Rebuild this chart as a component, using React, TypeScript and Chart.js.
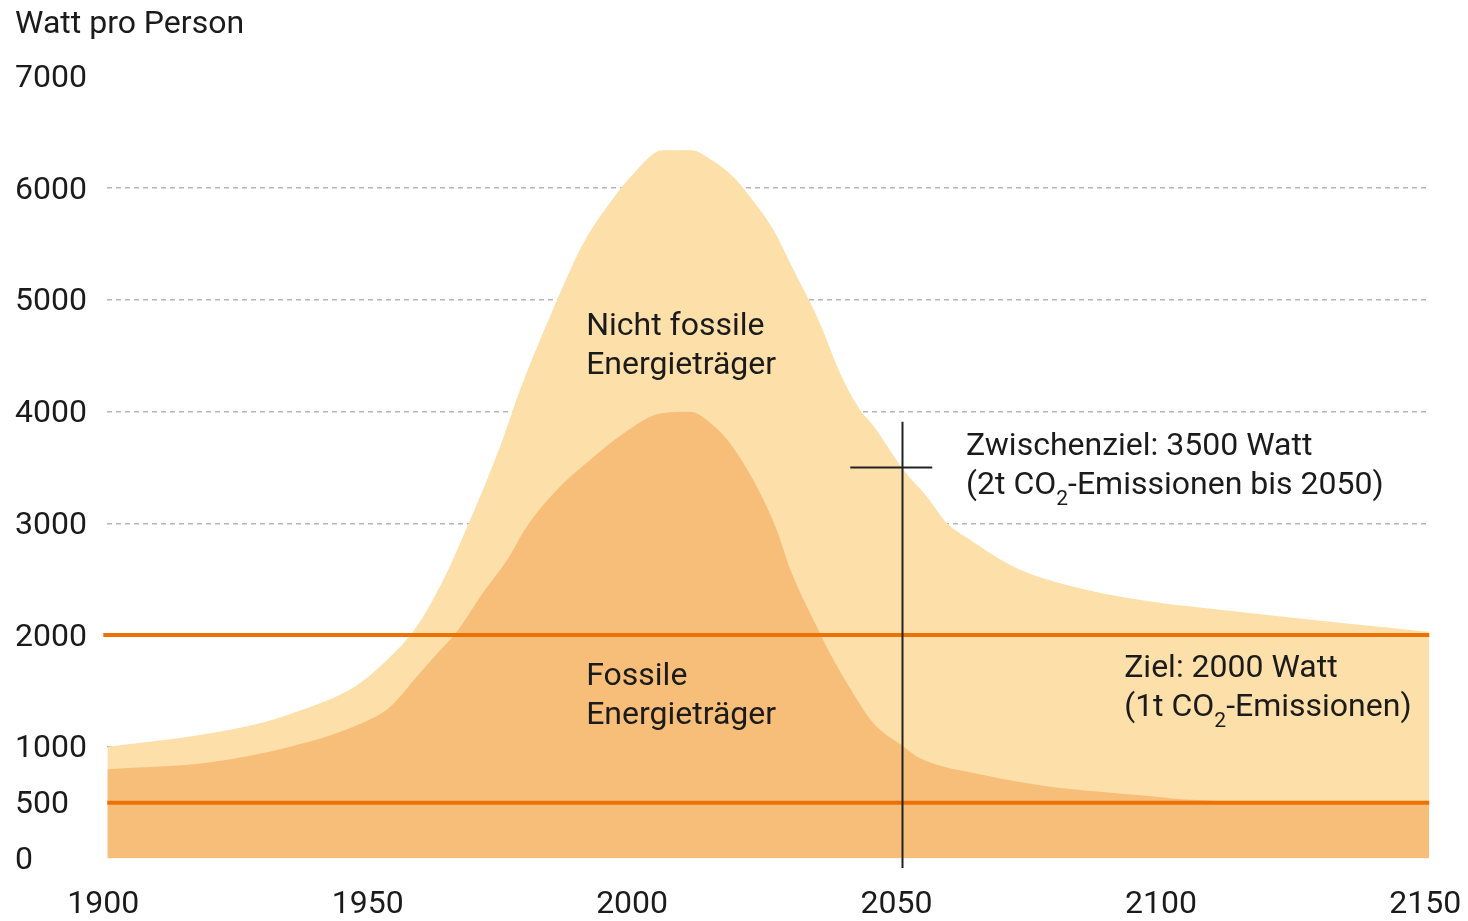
import React, { useEffect, useRef } from 'react';
import { Chart, registerables } from 'chart.js';

Chart.register(...registerables);

// ---- data ----
const totalYears = [1900, 1917.5, 1930, 1935, 1947, 1953.5, 1958.5, 1963.5, 1966.7, 1974.3, 1978, 1983.7, 1990, 1994.5, 1999.5, 2005, 2010.5, 2013.4, 2018.4, 2021.6, 2026, 2029.8, 2034.2, 2039.2, 2042.4, 2045, 2050.6, 2055, 2058.8, 2063.2, 2067, 2072.7, 2082.7, 2095.4, 2116, 2150];
const totalValues = [1000, 1105, 1225, 1300, 1545, 1805, 2075, 2490, 2820, 3690, 4190, 4850, 5505, 5835, 6130, 6340, 6340, 6280, 6100, 5920, 5625, 5265, 4850, 4280, 4013, 3865, 3476, 3238, 3000, 2850, 2731, 2582, 2432, 2313, 2197, 2027];

const fossilYears = [1900, 1918.8, 1934.6, 1948.1, 1953.5, 1958.5, 1961.7, 1966.1, 1971, 1975.6, 1979.3, 1985, 1992, 1997.6, 2004.6, 2010.2, 2013.4, 2017.8, 2023.5, 2026.6, 2029.2, 2034.8, 2036.5, 2039.9, 2044.9, 2050.6, 2053.7, 2065.7, 2078.3, 2087.8, 2097, 2105, 2125, 2150];
const fossilValues = [800, 857, 1000, 1210, 1358, 1627, 1800, 2030, 2376, 2671, 2969, 3298, 3596, 3805, 3984, 3998, 3924, 3715, 3268, 2940, 2582, 2015, 1850, 1568, 1210, 1000, 897, 747, 643, 598, 560, 525, 505, 500];

const yTickValues = [0, 500, 1000, 2000, 3000, 4000, 5000, 6000, 7000];
const gridValues = [1000, 3000, 4000, 5000, 6000];
const targetValues = [2000, 500];
const xMin = 1900;
const xMax = 2150;
const xStep = 50;
const yTitle = 'Watt pro Person';
const milestoneYear = 2050;
const milestoneValue = 3500;
const nonFossilLabel = ['Nicht fossile', 'Energieträger'];
const fossilLabel = ['Fossile', 'Energieträger'];
const interimLabel = ['Zwischenziel: 3500 Watt', '(2t CO', '2', '-Emissionen bis 2050)'];
const goalLabel = ['Ziel: 2000 Watt', '(1t CO', '2', '-Emissionen)'];

// ---- styles ----
const FONT = 'Roboto, "Noto Sans", sans-serif';
const TEXT = '#1b1b1b';
const LIGHT = '#FCDFA9';
const DARK = '#F7BE7A';
const ORANGE = '#EE7203';
const GRID = '#b5b5b5';

const overlayPlugin = {
  id: 'overlay',
  afterDraw(chart: any) {
    const { ctx, scales } = chart;
    const x = scales.x;
    const y = scales.y;
    ctx.save();

    // target lines
    ctx.strokeStyle = ORANGE;
    ctx.lineWidth = 4;
    targetValues.forEach((v, i) => {
      const py = y.getPixelForValue(v);
      ctx.beginPath();
      ctx.moveTo(x.left - (i === 0 ? 4 : 0), py);
      ctx.lineTo(x.right, py);
      ctx.stroke();
    });

    // milestone cross
    ctx.strokeStyle = '#222';
    ctx.lineWidth = 2;
    const mx = x.getPixelForValue(milestoneYear) + 2;
    ctx.beginPath();
    ctx.moveTo(mx, y.getPixelForValue(3910));
    ctx.lineTo(mx, y.getPixelForValue(-85));
    ctx.stroke();
    const my = y.getPixelForValue(milestoneValue);
    ctx.beginPath();
    ctx.moveTo(x.getPixelForValue(2040.5), my);
    ctx.lineTo(x.getPixelForValue(2056), my);
    ctx.stroke();

    // texts
    ctx.fillStyle = TEXT;
    ctx.textBaseline = 'alphabetic';
    ctx.textAlign = 'left';
    ctx.font = `32px ${FONT}`;
    const lh = 39;

    // y title
    ctx.fillText(yTitle, 15, 33);

    const twoLines = (lines: string[], yr: number, val: number) => {
      const px = x.getPixelForValue(yr);
      const py = y.getPixelForValue(val);
      ctx.fillText(lines[0], px, py);
      ctx.fillText(lines[1], px, py + lh);
    };
    twoLines(nonFossilLabel, 1990.56, 4685);
    twoLines(fossilLabel, 1990.56, 1553);

    const co2Lines = (parts: string[], yr: number, val: number) => {
      const px = x.getPixelForValue(yr);
      const py = y.getPixelForValue(val);
      ctx.font = `32px ${FONT}`;
      ctx.fillText(parts[0], px, py);
      const py2 = py + lh;
      let cx = px;
      ctx.fillText(parts[1], cx, py2);
      cx += ctx.measureText(parts[1]).width;
      ctx.font = `21px ${FONT}`;
      ctx.fillText(parts[2], cx, py2 + 11);
      cx += ctx.measureText(parts[2]).width;
      ctx.font = `32px ${FONT}`;
      ctx.fillText(parts[3], cx, py2);
    };
    co2Lines(interimLabel, 2062.4, 3611);
    co2Lines(goalLabel, 2092.3, 1627);

    ctx.restore();
  },
};

export default function App() {
  const canvasRef = useRef<HTMLCanvasElement | null>(null);

  useEffect(() => {
    const canvas = canvasRef.current;
    if (!canvas) return;
    const chart = new Chart(canvas, {
      type: 'line',
      data: {
        datasets: [
          {
            label: 'Fossile Energieträger',
            data: fossilYears.map((yr, i) => ({ x: yr, y: fossilValues[i] })),
            backgroundColor: DARK,
            borderWidth: 0,
            borderColor: 'transparent',
            pointRadius: 0,
            fill: 'origin',
            cubicInterpolationMode: 'monotone',
          },
          {
            label: 'Nicht fossile Energieträger',
            data: totalYears.map((yr, i) => ({ x: yr, y: totalValues[i] })),
            backgroundColor: LIGHT,
            borderWidth: 0,
            borderColor: 'transparent',
            pointRadius: 0,
            fill: 'origin',
            cubicInterpolationMode: 'monotone',
          },
        ],
      },
      options: {
        animation: false,
        responsive: false,
        devicePixelRatio: 1,
        events: [],
        layout: { padding: { left: 15, top: 76.5, right: 38.7, bottom: 0 } },
        plugins: {
          legend: { display: false },
          tooltip: { enabled: false },
        },
        scales: {
          x: {
            type: 'linear',
            min: xMin,
            max: xMax,
            grid: { display: false, drawTicks: false, tickLength: 0 },
            border: { display: false },
            ticks: {
              stepSize: xStep,
              autoSkip: false,
              maxRotation: 0,
              padding: 27,
              labelOffset: -4,
              color: TEXT,
              font: { family: FONT, size: 32 },
              callback: (v: any) => String(v),
            },
            afterFit: (s: any) => {
              s.height = 62.5;
              s.paddingLeft = 0;
              s.paddingRight = 0;
            },
          },
          y: {
            type: 'linear',
            min: 0,
            max: 7000,
            z: 1,
            afterBuildTicks: (s: any) => {
              s.ticks = yTickValues.map((v) => ({ value: v }));
            },
            grid: {
              drawTicks: false,
              tickLength: 0,
              lineWidth: 1.5,
              color: (c: any) => (c.tick && gridValues.includes(c.tick.value) ? GRID : 'transparent'),
            },
            border: { display: false, dash: [5, 4] },
            ticks: {
              crossAlign: 'far',
              padding: 0,
              labelOffset: 2.5,
              color: TEXT,
              font: { family: FONT, size: 32 },
              callback: (v: any) => String(v),
            },
            afterFit: (s: any) => {
              s.width = 92.3;
              s.paddingTop = 0;
              s.paddingBottom = 0;
            },
          },
        },
      },
      plugins: [overlayPlugin],
    } as any);
    return () => chart.destroy();
  }, []);

  return (
    <div style={{ position: 'fixed', left: 0, top: 0, width: 1468, height: 921, background: '#fff' }}>
      <canvas ref={canvasRef} width={1468} height={921} style={{ display: 'block' }} />
    </div>
  );
}
